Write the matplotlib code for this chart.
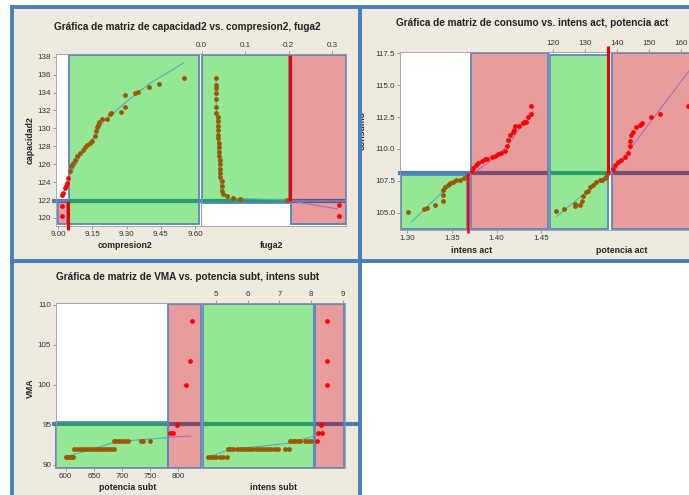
import matplotlib.pyplot as plt
from matplotlib.patches import Rectangle
from matplotlib.lines import Line2D
import matplotlib.transforms as mtransforms

# ---------------- data ----------------
# panel 1: capacidad2 vs compresion2, fuga2
comp_ok = [9.051, 9.056, 9.063, 9.073, 9.083, 9.095, 9.107, 9.117, 9.127, 9.139,
           9.150, 9.161, 9.165, 9.168, 9.173, 9.180, 9.190, 9.212, 9.227, 9.231,
           9.274, 9.293, 9.293, 9.337, 9.351, 9.400, 9.442, 9.553]
cap_ok = [125.2, 125.75, 126.1, 126.5, 126.9, 127.2, 127.6, 127.9, 128.1, 128.4,
          128.6, 129.1, 129.65, 130.1, 130.4, 130.75, 131.0, 131.1, 131.6, 131.7,
          131.8, 132.4, 133.7, 133.9, 134.1, 134.6, 134.9, 135.6]
comp_bad = [9.041, 9.037, 9.033, 9.029, 9.022, 9.016, 9.015, 9.015]
cap_bad = [124.5, 123.9, 123.6, 123.3, 122.8, 122.6, 121.3, 120.2]
comp_fit = [9.04, 9.10, 9.15, 9.20, 9.30, 9.40, 9.55]
comp_fit_y = [124.3, 127.0, 128.8, 130.8, 133.0, 135.0, 137.3]

fuga_ok = [0.033, 0.033, 0.033, 0.033, 0.033, 0.033, 0.033, 0.037, 0.037, 0.037,
           0.037, 0.037, 0.037, 0.039, 0.039, 0.039, 0.039, 0.042, 0.042, 0.042,
           0.042, 0.042, 0.046, 0.046, 0.046, 0.050, 0.058, 0.073, 0.088, 0.196]
cap_f_ok = [135.6, 134.8, 134.5, 133.9, 133.3, 132.4, 131.7, 131.3, 130.8, 130.3,
            129.8, 129.3, 128.9, 128.4, 127.9, 127.4, 126.9, 126.5, 126.0, 125.5,
            125.0, 124.6, 124.1, 123.6, 123.0, 122.7, 122.4, 122.2, 122.1, 122.0]
fuga_bad = [0.315, 0.315]
cap_f_bad = [121.4, 120.2]
fuga_fit = [0.033, 0.034, 0.037, 0.040, 0.045, 0.060, 0.200]
fuga_fit_y = [135.6, 132.0, 128.0, 125.0, 123.0, 122.2, 122.0]
fuga_fit2 = [0.205, 0.312]
fuga_fit2_y = [121.9, 121.0]

# panel 2: consumo vs intens act, potencia act
int_ok = [1.301, 1.319, 1.322, 1.331, 1.340, 1.340, 1.340, 1.342, 1.345, 1.348,
          1.351, 1.355, 1.359, 1.363, 1.366]
cons_i_ok = [105.08, 105.3, 105.4, 105.6, 105.9, 106.4, 106.8, 107.0, 107.2, 107.3,
             107.4, 107.55, 107.6, 107.7, 107.8]
int_bad = [1.372, 1.374, 1.377, 1.379, 1.383, 1.387, 1.389, 1.395, 1.398, 1.402,
           1.405, 1.409, 1.411, 1.413, 1.415, 1.418, 1.419, 1.421, 1.425, 1.429,
           1.431, 1.433, 1.435, 1.438, 1.438]
cons_i_bad = [108.3, 108.5, 108.7, 108.9, 109.05, 109.2, 109.2, 109.35, 109.45, 109.6,
              109.7, 109.8, 110.2, 110.7, 111.1, 111.3, 111.5, 111.8, 111.8, 112.0,
              112.1, 112.1, 112.5, 112.7, 113.4]
int_fit = [1.305, 1.345, 1.368]
int_fit_y = [104.3, 107.0, 107.8]
int_fit2 = [1.370, 1.400, 1.415, 1.430]
int_fit2_y = [107.9, 109.4, 110.5, 112.0]

pot_ok = [120.9, 123.3, 126.7, 126.7, 128.2, 129.1, 129.3, 130.1, 130.7, 131.4,
          132.4, 133.4, 134.5, 135.3, 136.0, 136.6, 136.8]
cons_p_ok = [105.1, 105.3, 105.5, 105.65, 105.6, 105.9, 106.3, 106.6, 106.7, 107.0,
             107.2, 107.4, 107.55, 107.6, 107.75, 107.8, 108.0]
pot_bad = [138.6, 139.2, 140.2, 141.25, 142.3, 143.3, 143.85, 144.1, 144.4, 144.9,
           145.7, 147.0, 147.8, 150.6, 153.2, 162.1]
cons_p_bad = [108.4, 108.75, 108.95, 109.1, 109.4, 109.7, 110.2, 110.6, 111.1, 111.3,
              111.7, 111.9, 112.05, 112.5, 112.7, 113.4]
pot_fit = [121.0, 137.0]
pot_fit_y = [104.7, 108.0]
pot_fit2 = [138.0, 150.0, 166.0]
pot_fit2_y = [108.0, 112.0, 117.3]

# panel 3: VMA vs potencia subt, intens subt
ps_ok = [600, 603, 606, 610, 613,
         615, 620, 625, 630, 635, 640, 645, 650, 655, 660, 665, 670, 675, 680, 685,
         685, 690, 695, 700, 705, 710, 733, 737, 750]
vma_ps_ok = [91, 91, 91, 91, 91,
             92, 92, 92, 92, 92, 92, 92, 92, 92, 92, 92, 92, 92, 92, 92,
             93, 93, 93, 93, 93, 93, 93, 93, 93]
ps_bad = [786, 790, 798, 813, 821, 824]
vma_ps_bad = [94, 94, 95, 100, 103, 108]
ps_fit = [600, 650, 690, 782]
ps_fit_y = [91.0, 92.0, 92.9, 93.4]
ps_fit2 = [782, 822]
ps_fit2_y = [93.45, 93.6]

is_ok = [4.76, 4.85, 4.92, 5.0, 5.13, 5.23, 5.34,
         5.39, 5.45, 5.55, 5.65, 5.75, 5.85, 5.95, 6.05, 6.15, 6.25, 6.35, 6.45, 6.55,
         6.65, 6.75, 6.85, 6.97, 7.18, 7.3,
         7.34, 7.42, 7.5, 7.58, 7.66, 7.8, 7.9, 8.0]
vma_is_ok = [91, 91, 91, 91, 91, 91, 91,
             92, 92, 92, 92, 92, 92, 92, 92, 92, 92, 92, 92, 92,
             92, 92, 92, 92, 92, 92,
             93, 93, 93, 93, 93, 93, 93, 93]
is_bad = [8.18, 8.23, 8.34, 8.3, 8.49, 8.49, 8.49]
vma_is_bad = [93, 94, 94, 95, 100, 103, 108]
is_fit = [4.8, 5.4, 7.3, 8.1]
is_fit_y = [91.0, 91.9, 92.7, 93.6]
is_fit2 = [8.1, 8.4]
is_fit2_y = [93.6, 94.1]

# limits / thresholds
cap_lim, comp_lim, fuga_lim = 121.86, 9.044, 0.204
cons_lim, int_lim, pot_lim = 108.09, 1.368, 137.2
vma_lim, ps_lim, is_lim = 95.09, 782, 8.1

ticks_cap = [120, 122, 124, 126, 128, 130, 132, 134, 136, 138]
ticks_comp = [9.00, 9.15, 9.30, 9.45, 9.60]
ticks_fuga = [0.0, 0.1, 0.2, 0.3]
ticks_cons = [105.0, 107.5, 110.0, 112.5, 115.0, 117.5]
ticks_int = [1.30, 1.35, 1.40, 1.45]
ticks_pot = [120, 130, 140, 150, 160]
ticks_vma = [90, 95, 100, 105, 110]
ticks_ps = [600, 650, 700, 750, 800]
ticks_is = [5, 6, 7, 8, 9]

# ---------------- styling ----------------
W, H = 689, 495
BEIGE = '#eeeae0'
BLUE = '#4a7ebb'
EDGE = '#5a86c2'
GREEN = (0.0, 0.78, 0.0, 0.42)
RED = (0.78, 0.0, 0.0, 0.39)
BROWN = '#9c5700'
TEAL = '#5aa5c8'
PURPLE = '#a070c0'
FONT = 'Liberation Sans'

plt.rcParams['font.family'] = FONT
fig = plt.figure(figsize=(W / 100, H / 100), dpi=100)
fig.patch.set_facecolor('white')


def fbox(x, y, w, h):
    return [x / W, 1 - (y + h) / H, w / W, h / H]


def frect(x, y, w, h, **kw):
    r = Rectangle((x / W, 1 - (y + h) / H), w / W, h / H,
                  transform=fig.transFigure, **kw)
    fig.add_artist(r)
    return r


def ftext(x, y, s, **kw):
    fig.text(x / W, 1 - y / H, s, ha='center', va='center', **kw)


def make_axes(px, xlim, ylim, xticks, xfmt, top=False, yticks=None, yfmt=None):
    frect(*px, facecolor='white', edgecolor='none', zorder=-4)
    ax = fig.add_axes(fbox(*px))
    ax.set_facecolor('none')
    ax.set_xlim(*xlim)
    ax.set_ylim(*ylim)
    ax.set_xticks(xticks)
    ax.set_xticklabels([xfmt % v for v in xticks])
    if top:
        ax.xaxis.tick_top()
    if yticks is None:
        ax.set_yticks([])
    else:
        ax.set_yticks(yticks)
        ax.set_yticklabels([yfmt % v for v in yticks])
    ax.tick_params(labelsize=5.8, length=2, width=0.5, colors='#777777',
                   labelcolor='#333333', pad=1.5)
    for s in ax.spines.values():
        s.set_color('#9a9a9a')
        s.set_linewidth(0.6)
    return ax


def zone(ax, x0, x1, y0, y1, color):
    ax.add_patch(Rectangle((x0, y0), x1 - x0, y1 - y0, facecolor=color,
                           edgecolor=EDGE, linewidth=1.3, zorder=1, clip_on=False))


def hband(ax, y, x0px, x1px):
    tr = mtransforms.blended_transform_factory(fig.transFigure, ax.transData)
    fig.add_artist(Line2D([x0px / W, x1px / W], [y, y], transform=tr,
                          color=BLUE, linewidth=3.0, zorder=-3, solid_capstyle='butt'))


def points(ax, xs, ys, color):
    ax.scatter(xs, ys, s=12, color=color, linewidths=0, zorder=3, clip_on=False)


def fit(ax, xs, ys, color):
    ax.plot(xs, ys, color=color, linewidth=0.8, zorder=2)


def vred(ax, x, y0, y1, lw=2.2):
    ax.plot([x, x], [y0, y1], color='#ee0000', linewidth=lw, zorder=4,
            clip_on=False, solid_capstyle='butt')


# panel backgrounds and borders
panels = [(12, 7, 348, 254), (360, 7, 340, 254), (12, 261, 348, 240)]
for p in panels:
    frect(*p, facecolor=BEIGE, edgecolor='none', zorder=-5)
    frect(*p, facecolor='none', edgecolor=BLUE, linewidth=2.8, zorder=10)

# ---------------- panel 1 ----------------
a1 = make_axes((56, 54, 145, 172), (8.99, 9.626), (119.1, 138.3),
               ticks_comp, '%.2f', yticks=ticks_cap, yfmt='%d')
a2 = make_axes((201, 54, 145, 172), (-0.0015, 0.332), (119.1, 138.3),
               ticks_fuga, '%.1f', top=True)
hband(a1, cap_lim, 52, 346)
zone(a1, 8.997, 9.038, 119.3, cap_lim, RED)
zone(a1, 9.047, 9.618, 119.3, 138.2, GREEN)
zone(a2, 0.0, 0.2015, cap_lim - 0.2, 138.2, GREEN)
zone(a2, 0.2065, 0.331, 119.3, 138.2, RED)
zone(a2, 0.2065, 0.331, 119.3, cap_lim, (0, 0, 0, 0))
vred(a1, comp_lim, cap_lim, 118.6)
vred(a2, fuga_lim, cap_lim, 138.2)
fit(a1, comp_fit, comp_fit_y, TEAL)
points(a1, comp_ok, cap_ok, BROWN)
points(a1, comp_bad, cap_bad, 'red')
fit(a2, fuga_fit, fuga_fit_y, TEAL)
fit(a2, fuga_fit2, fuga_fit2_y, PURPLE)
points(a2, fuga_ok, cap_f_ok, BROWN)
points(a2, fuga_bad, cap_f_bad, 'red')
ftext(187, 27, 'Gráfica de matriz de capacidad2 vs. compresion2, fuga2',
      fontsize=7.2, fontweight='bold', color='#222222')
ftext(125, 246, 'compresion2', fontsize=6.3, fontweight='bold', color='#222222')
ftext(272, 246, 'fuga2', fontsize=6.3, fontweight='bold', color='#222222')
ftext(30, 140, 'capacidad2', fontsize=6.3, fontweight='bold', color='#222222',
      rotation=90)

# ---------------- panel 2 ----------------
b1 = make_axes((400, 52, 149, 178), (1.2918, 1.4585), (103.64, 117.6),
               ticks_int, '%.2f', yticks=ticks_cons, yfmt='%.1f')
b2 = make_axes((549, 52, 171, 178), (118.65, 172.1), (103.64, 117.6),
               ticks_pot, '%d', top=True)
hband(b1, cons_lim, 398, 700)
zone(b1, 1.2925, 1.3665, 103.7, cons_lim - 0.16, GREEN)
zone(b1, 1.371, 1.457, 103.7, 117.5, RED)
zone(b2, 119.0, 137.0, 103.7, 117.4, GREEN)
zone(b2, 138.3, 175.0, 103.7, 117.5, RED)
vred(b1, int_lim, cons_lim, 103.4, lw=1.8)
vred(b2, pot_lim, cons_lim, 118.1)
fit(b1, int_fit, int_fit_y, TEAL)
fit(b1, int_fit2, int_fit2_y, PURPLE)
points(b1, int_ok, cons_i_ok, BROWN)
points(b1, int_bad, cons_i_bad, 'red')
fit(b2, pot_fit, pot_fit_y, TEAL)
fit(b2, pot_fit2, pot_fit2_y, PURPLE)
points(b2, pot_ok, cons_p_ok, BROWN)
points(b2, pot_bad, cons_p_bad, 'red')
ftext(532, 23, 'Gráfica de matriz de consumo vs. intens act, potencia act',
      fontsize=7.2, fontweight='bold', color='#222222')
ftext(472, 250, 'intens act', fontsize=6.3, fontweight='bold', color='#222222')
ftext(622, 250, 'potencia act', fontsize=6.3, fontweight='bold', color='#222222')
ftext(362, 130, 'consumo', fontsize=6.3, fontweight='bold', color='#222222',
      rotation=90)

# ---------------- panel 3 ----------------
c1 = make_axes((56, 303, 146, 165), (582.8, 842), (89.6, 110.25),
               ticks_ps, '%d', yticks=ticks_vma, yfmt='%d')
c2 = make_axes((202, 303, 143, 165), (4.56, 9.07), (89.6, 110.25),
               ticks_is, '%d', top=True)
hband(c1, vma_lim, 52, 362)
zone(c1, 583.5, ps_lim, 89.65, vma_lim + 0.25, GREEN)
zone(c1, ps_lim, 840.0, 89.65, 110.1, RED)
zone(c2, 4.6, is_lim, 89.65, 110.1, GREEN)
zone(c2, 8.13, 9.05, 89.65, 110.1, RED)
fit(c1, ps_fit, ps_fit_y, TEAL)
fit(c1, ps_fit2, ps_fit2_y, PURPLE)
points(c1, ps_ok, vma_ps_ok, BROWN)
points(c1, ps_bad, vma_ps_bad, 'red')
fit(c2, is_fit, is_fit_y, TEAL)
fit(c2, is_fit2, is_fit2_y, PURPLE)
points(c2, is_ok, vma_is_ok, BROWN)
points(c2, is_bad, vma_is_bad, 'red')
ftext(188, 277, 'Gráfica de matriz de VMA vs. potencia subt, intens subt',
      fontsize=7.2, fontweight='bold', color='#222222')
ftext(128, 488, 'potencia subt', fontsize=6.3, fontweight='bold', color='#222222')
ftext(273, 488, 'intens subt', fontsize=6.3, fontweight='bold', color='#222222')
ftext(30, 388, 'VMA', fontsize=6.3, fontweight='bold', color='#222222', rotation=90)

fig.savefig('out.png', dpi=100)
